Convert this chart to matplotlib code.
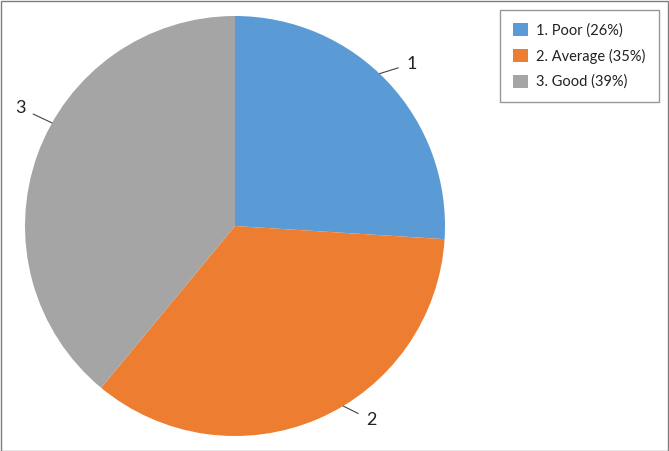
import matplotlib
matplotlib.use("Agg")
import matplotlib.pyplot as plt
import numpy as np
from matplotlib.patches import Rectangle

categories = ["1. Poor (26%)", "2. Average (35%)", "3. Good (39%)"]
short_labels = ["1", "2", "3"]
values = [26, 35, 39]
colors = ["#5B9BD5", "#ED7D31", "#A5A5A5"]

# label anchor angles (degrees) and text offsets (pixels) - styling
label_angles = [46.5, -59.0, 150.6]
label_offsets = [(32, 10), (28, -14), (-32, 15)]

plt.rcParams['font.family'] = ['Lato', 'DejaVu Sans']

W, H = 669, 451
fig = plt.figure(figsize=(W / 100, H / 100), dpi=100)
ax = fig.add_axes([0, 0, 1, 1])
ax.set_xlim(0, W)
ax.set_ylim(0, H)
ax.set_aspect('equal')
ax.axis('off')

cx, cy, R = 235, H - 226, 210
wedges, _ = ax.pie(values, colors=colors, startangle=90, counterclock=False,
                   center=(cx, cy), radius=R, frame=True,
                   wedgeprops=dict(linewidth=0))
ax.set_xlim(0, W)
ax.set_ylim(0, H)
ax.axis('off')

for lab, ang, off in zip(short_labels, label_angles, label_offsets):
    a = np.deg2rad(ang)
    px, py = cx + R * np.cos(a), cy + R * np.sin(a)
    ax.annotate(lab, xy=(px, py), xytext=off, textcoords='offset pixels',
                ha='center', va='center', fontsize=13, color='#222222',
                arrowprops=dict(arrowstyle='-', color='#444444', lw=0.8,
                                shrinkA=4, shrinkB=0))

leg = ax.legend(wedges, categories, loc='upper left',
                bbox_to_anchor=(500 / W, 1 - 10 / H), fontsize=10.5,
                frameon=True, fancybox=False, edgecolor='#7f7f7f',
                handlelength=1.0, handleheight=1.0, handletextpad=0.6,
                labelspacing=0.75, borderpad=0.9, borderaxespad=0)
leg.get_frame().set_linewidth(1.0)
for t in leg.get_texts():
    t.set_color('#222222')

fig.patches.append(Rectangle((0.5 / W, 0.5 / H), 1 - 1.5 / W, 1 - 1.5 / H,
                             transform=fig.transFigure, fill=False,
                             edgecolor='#7f7f7f', linewidth=1.0))

fig.savefig("out.png", dpi=100)
